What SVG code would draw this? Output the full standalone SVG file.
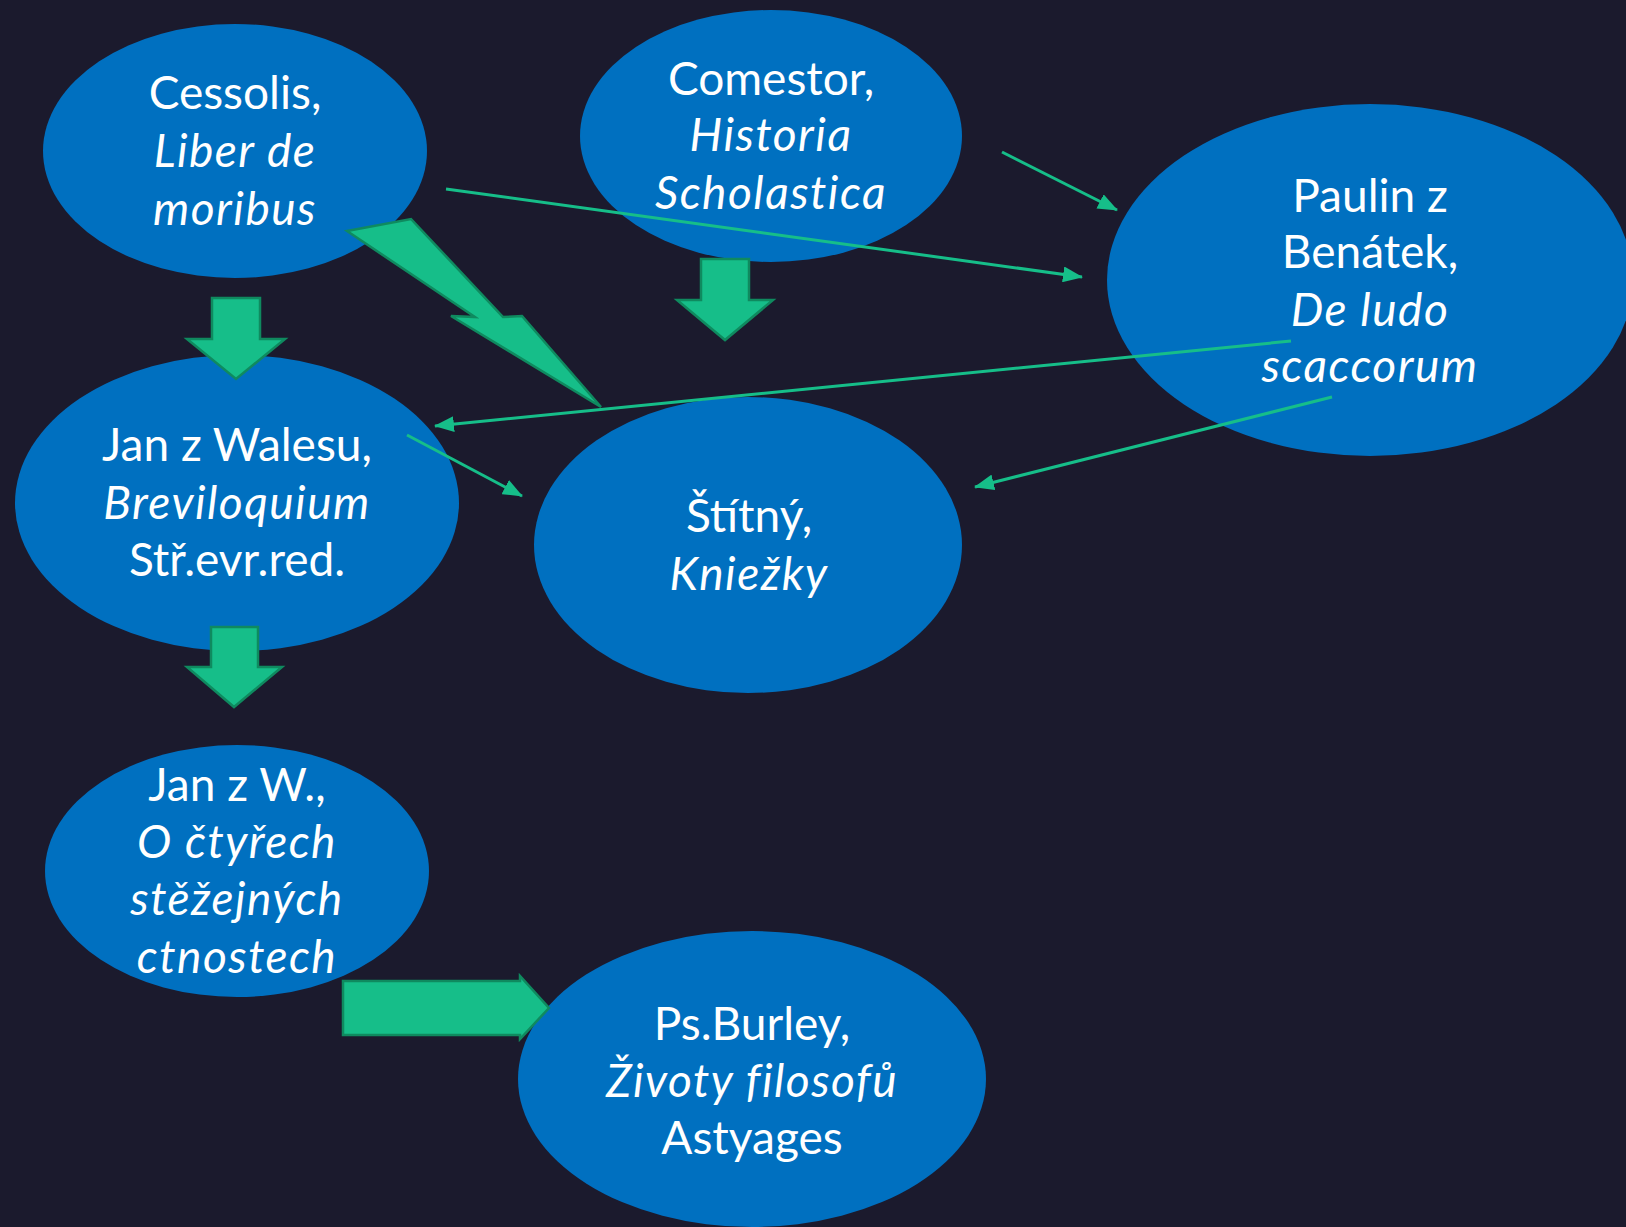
<svg xmlns="http://www.w3.org/2000/svg" width="1626" height="1227" viewBox="0 0 1626 1227">
<defs>
<style>
.node{fill:#0070c0}
.t{font-family:"Source Sans Pro","Lato","Liberation Sans",sans-serif;font-size:46px;fill:#ffffff;text-anchor:middle}
.i{font-style:italic;letter-spacing:1.5px}
.blk{fill:#16be89;stroke:#0f8a5f;stroke-width:2.5;stroke-linejoin:miter}
.ln{stroke:#16be89;stroke-width:3;fill:none}
</style>
<marker id="ah" markerUnits="userSpaceOnUse" markerWidth="20" markerHeight="16" viewBox="0 0 20 16" refX="19" refY="8" orient="auto">
<path d="M0,0 L20,8 L0,16 Z" fill="#16be89"/>
</marker>
</defs>
<rect width="1626" height="1227" fill="#1b1a2d"/>
<g id="n-cessolis"><ellipse class="node" cx="235" cy="151" rx="192" ry="127"/>
<text class="t" x="235" y="109">Cessolis,</text><text class="t i" x="235" y="167">Liber de</text><text class="t i" x="235" y="225">moribus</text></g>
<g id="n-comestor"><ellipse class="node" cx="771" cy="136" rx="191" ry="126"/>
<text class="t" x="771" y="95">Comestor,</text><text class="t i" x="771" y="151">Historia</text><text class="t i" x="771" y="209">Scholastica</text></g>
<g id="n-paulin"><ellipse class="node" cx="1370" cy="280" rx="263" ry="176"/>
<text class="t" x="1370" y="212">Paulin z</text><text class="t" x="1370" y="268">Benátek,</text><text class="t i" x="1370" y="326">De ludo</text><text class="t i" x="1370" y="382">scaccorum</text></g>
<g id="n-walesu"><ellipse class="node" cx="237" cy="503" rx="222" ry="148"/>
<text class="t" x="237" y="461">Jan z Walesu,</text><text class="t i" x="237" y="519">Breviloquium</text><text class="t" x="237" y="576">Stř.evr.red.</text></g>
<g id="n-stitny"><ellipse class="node" cx="748" cy="545" rx="214" ry="148"/>
<text class="t" x="749" y="532">Štítný,</text><text class="t i" x="749" y="590">Kniežky</text></g>
<g id="n-janw"><ellipse class="node" cx="237" cy="871" rx="192" ry="126"/>
<text class="t" x="237" y="801">Jan z W.,</text><text class="t i" x="237" y="858">O čtyřech</text><text class="t i" x="237" y="915">stěžejných</text><text class="t i" x="237" y="973">ctnostech</text></g>
<g id="n-burley"><ellipse class="node" cx="752" cy="1079" rx="234" ry="148"/>
<text class="t" x="752" y="1040">Ps.Burley,</text><text class="t i" x="752" y="1097">Životy filosofů</text><text class="t" x="752" y="1154">Astyages</text></g>
<g id="connectors">
<polygon class="blk" points="212,298 260,298 260,339 285,339 236,379 187,339 212,339"/>
<polygon class="blk" points="701,259 749,259 749,300 773,300 725,340 677,300 701,300"/>
<polygon class="blk" points="211,627 258,627 258,667 282,667 234,707 187,667 211,667"/>
<polygon class="blk" points="343,981 520,981 520,976 549,1008 520,1039 520,1035 343,1035"/>
<polygon class="blk" points="347,231 411,219 503,317 522,316 601,407 451,316 475,317"/>
<line class="ln" x1="446" y1="189" x2="1082" y2="277" marker-end="url(#ah)"/>
<line class="ln" x1="1002" y1="152" x2="1117" y2="210" marker-end="url(#ah)"/>
<line class="ln" x1="1291" y1="341" x2="435" y2="426" marker-end="url(#ah)"/>
<line class="ln" x1="407" y1="435" x2="522" y2="496" marker-end="url(#ah)"/>
<line class="ln" x1="1332" y1="397" x2="975" y2="487" marker-end="url(#ah)"/>
</g>
</svg>
